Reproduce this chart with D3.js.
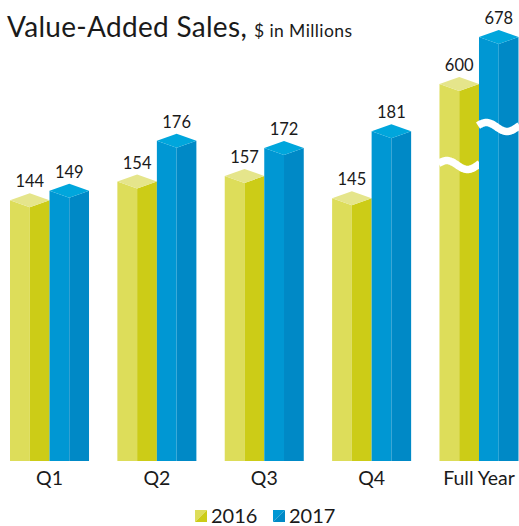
<!DOCTYPE html>
<html>
<head>
<meta charset="utf-8">
<script src="https://cdn.jsdelivr.net/npm/d3@7"></script>
<style>
  html, body { margin: 0; padding: 0; background: #fff; }
  svg { display: block; font-family: "Lato", "Open Sans", sans-serif; }
</style>
</head>
<body>
<svg id="chart" width="519" height="526"></svg>
<script>
// ---- data ----
const categories = ["Q1", "Q2", "Q3", "Q4", "Full Year"];
const seriesNames = ["2016", "2017"];
const values2016 = [144, 154, 157, 145, 600];
const values2017 = [149, 176, 172, 181, 678];
const title = "Value-Added Sales,";
const subtitle = "$ in Millions";

// ---- styles ----
const colors = {
  "2016": { left: "#dddd5a", right: "#cccc17", top: "#e5e58b" },
  "2017": { left: "#0097d3", right: "#0089c6", top: "#00a6dc" }
};
const breakOffset = { "2016": 88, "2017": 97 };

const svg = d3.select("#chart");
const baseY = 461;

const x0 = d3.scaleBand().domain(categories).range([10, 518.5]).paddingInner(0.264).paddingOuter(0);
const x1 = d3.scaleBand().domain(seriesNames).range([0, x0.bandwidth()]).padding(0);
const y = d3.scaleLinear().domain([0, 200]).range([baseY, 89]);
// broken-axis scale for the Full Year group
const yFull = d3.scaleLinear().domain([600, 678]).range([77, 30]);

const rows = [];
categories.forEach((c, i) => {
  rows.push({ cat: c, series: "2016", value: values2016[i] });
  rows.push({ cat: c, series: "2017", value: values2017[i] });
});

const capSide = 7, capFront = 14;

const g = svg.append("g");
rows.forEach(d => {
  const xl = x0(d.cat) + x1(d.series);
  const w = x1.bandwidth();
  const xm = xl + w / 2, xr = xl + w;
  const isFull = d.cat === "Full Year";
  const py = isFull ? yFull(d.value) : y(d.value);
  const col = colors[d.series];
  g.append("path")
    .attr("d", `M${xl},${py + capSide} L${xm},${py + capFront} L${xm},${baseY} L${xl},${baseY} Z`)
    .attr("fill", col.left);
  g.append("path")
    .attr("d", `M${xm},${py + capFront} L${xr},${py + capSide} L${xr},${baseY} L${xm},${baseY} Z`)
    .attr("fill", col.right);
  g.append("path")
    .attr("d", `M${xl},${py + capSide} L${xm},${py} L${xr},${py + capSide} L${xm},${py + capFront} Z`)
    .attr("fill", col.top);
  if (isFull) {
    const c = py + breakOffset[d.series];
    const pts = d3.range(0, 1.0001, 0.02).map(t => [xl - 1 + t * (w + 2), c - 4.5 * Math.sin(2 * Math.PI * t + 0.1 * Math.PI)]);
    g.append("path")
      .attr("d", d3.line().curve(d3.curveBasis)(pts))
      .attr("fill", "none")
      .attr("stroke", "#fff")
      .attr("stroke-width", 7.5);
  }
  g.append("text")
    .attr("x", xm)
    .attr("y", py - 6)
    .attr("text-anchor", "middle")
    .attr("font-size", 16.5)
    .attr("fill", "#1a1a1a")
    .text(d.value);
});

const xAxis = d3.axisBottom(x0).tickSize(0).tickPadding(0);
const ax = svg.append("g").attr("transform", `translate(0,${baseY})`).call(xAxis);
ax.select(".domain").remove();
ax.selectAll("text")
  .attr("y", 24)
  .attr("dy", 0)
  .attr("font-size", 19.5)
  .attr("font-family", "Lato, 'Open Sans', sans-serif")
  .attr("fill", "#1a1a1a");

const t = svg.append("text").attr("x", 7).attr("y", 37).attr("fill", "#1a1a1a");
t.append("tspan").attr("font-size", 28).attr("letter-spacing", 0.3).text(title);
t.append("tspan").attr("font-size", 17.5).attr("letter-spacing", 0.4).attr("dx", 7).text(subtitle);

const legendX = { "2016": 195, "2017": 273 };
seriesNames.forEach(s => {
  const lx = legendX[s], ly = 510, sz = 12;
  const lg = svg.append("g");
  lg.append("path").attr("d", `M${lx},${ly} L${lx + sz},${ly} L${lx},${ly + sz} Z`).attr("fill", colors[s].left);
  lg.append("path").attr("d", `M${lx + sz},${ly} L${lx + sz},${ly + sz} L${lx},${ly + sz} Z`).attr("fill", colors[s].right);
  lg.append("text").attr("x", lx + 16).attr("y", ly + 13).attr("font-size", 20).attr("fill", "#1a1a1a").text(s);
});
</script>
</body>
</html>
